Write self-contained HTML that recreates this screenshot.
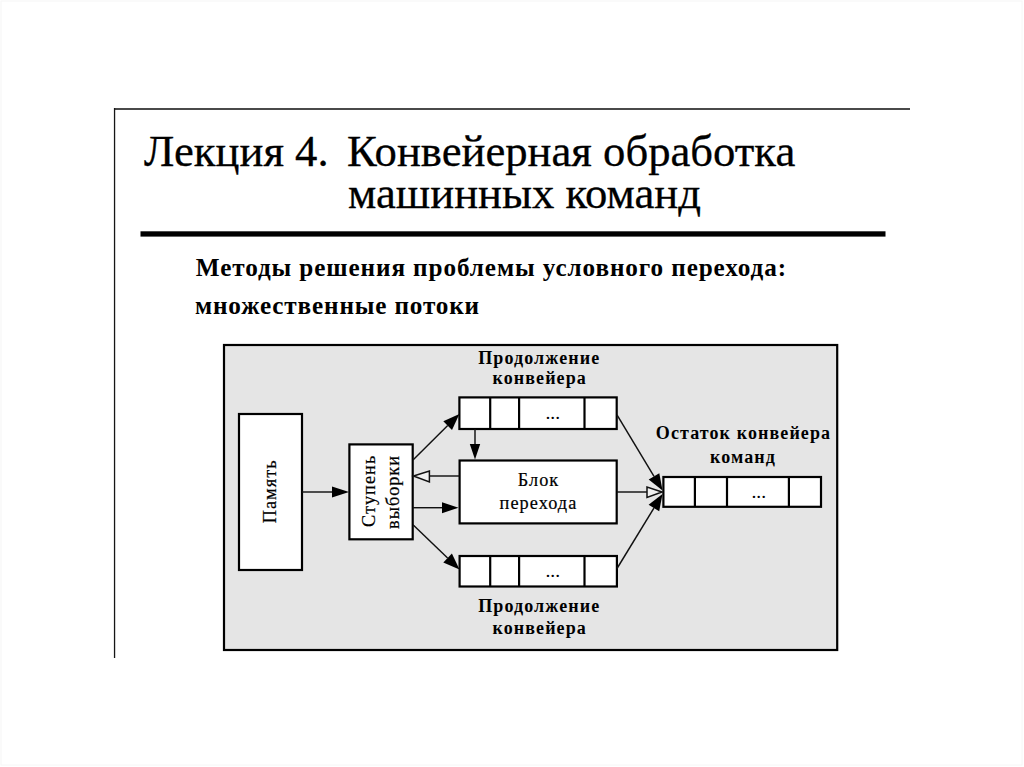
<!DOCTYPE html>
<html><head><meta charset="utf-8">
<style>
html,body{margin:0;padding:0;background:#fff;width:1024px;height:767px;overflow:hidden}
svg{display:block}
text{font-family:"Liberation Serif",serif;fill:#000}
.b{font-weight:700}
.t{stroke:#000;stroke-width:0.3px}
.t2{stroke:#000;stroke-width:0.2px}
</style></head><body>
<svg width="1024" height="767" viewBox="0 0 1024 767">
<rect x="0" y="0" width="1024" height="767" fill="#fff"/>
<rect x="1" y="1" width="1021" height="764" fill="none" stroke="#f6f6f6" stroke-width="1"/>
<!-- slide frame lines -->
<rect x="114" y="108" width="796" height="2" fill="#4a4a4a"/>
<rect x="113.9" y="108" width="1.3" height="550" fill="#151515"/>
<!-- title -->
<text class="t" x="144" y="166" font-size="44.7">Лекция 4.</text>
<text class="t" x="347" y="166" font-size="44.7">Конвейерная обработка</text>
<text class="t" x="348" y="207.5" font-size="44.7">машинных команд</text>
<rect x="140.5" y="231.3" width="745" height="5.3" fill="#000"/>
<!-- subtitle -->
<text class="b" x="195.8" y="275.6" font-size="25.2" letter-spacing="0.9">Методы решения проблемы условного перехода:</text>
<text class="b" x="195" y="313.8" font-size="25.2" letter-spacing="0.85">множественные потоки</text>
<!-- diagram -->
<g stroke="#000" stroke-width="2.2" fill="#fff">
<rect x="224" y="345" width="613.2" height="305" fill="#e5e5e5"/>
<rect x="239" y="414" width="63" height="156"/>
<rect x="349.4" y="444.4" width="63.3" height="94.9"/>
<rect x="459.4" y="397.4" width="157.3" height="31.6"/>
<rect x="459.6" y="460.5" width="157.1" height="62.9"/>
<rect x="459.6" y="556" width="157.3" height="30.5"/>
<rect x="663.4" y="477" width="157.6" height="29.8"/>
</g>
<g stroke="#000" stroke-width="2.2">
<line x1="490.2" y1="397.4" x2="490.2" y2="429"/>
<line x1="519.1" y1="397.4" x2="519.1" y2="429"/>
<line x1="584.5" y1="397.4" x2="584.5" y2="429"/>
<line x1="490.2" y1="556" x2="490.2" y2="586.5"/>
<line x1="519.1" y1="556" x2="519.1" y2="586.5"/>
<line x1="584.5" y1="556" x2="584.5" y2="586.5"/>
<line x1="694.9" y1="477" x2="694.9" y2="506.8"/>
<line x1="727" y1="477" x2="727" y2="506.8"/>
<line x1="788.9" y1="477" x2="788.9" y2="506.8"/>
</g>
<!-- arrows -->
<g stroke="#111" stroke-width="1.45" fill="none">
<line x1="302" y1="492" x2="334" y2="492"/>
<line x1="413" y1="507.7" x2="444" y2="507.7"/>
<line x1="459.5" y1="476" x2="429.4" y2="476"/>
<line x1="475" y1="429" x2="475" y2="446"/>
<line x1="617" y1="492" x2="647" y2="492"/>
</g>
<g fill="#000">
<polygon points="349,492 332,486.6 332,497.6"/>
<polygon points="458.5,507.7 442,502.3 442,513.2"/>
<polygon points="475,459.5 469.8,444 480.2,444"/>
</g>
<g stroke="#111" stroke-width="1.45">
<line x1="413" y1="460" x2="447.7" y2="425.6"/>
<line x1="413" y1="524.8" x2="447.6" y2="558.1"/>
<line x1="617" y1="414.8" x2="654.0" y2="476.4"/>
<line x1="617" y1="568.5" x2="653.9" y2="508.1"/>
</g>
<g fill="#000">
<polygon points="459.4,414.0 452.0,430.0 443.3,421.2"/>
<polygon points="459.5,569.5 443.3,562.5 451.9,553.6"/>
<polygon points="662.5,490.5 648.7,479.6 659.3,473.2"/>
<polygon points="662.5,494.0 659.2,511.3 648.6,504.8"/>
</g>
<g fill="#f0f0f0" stroke="#111" stroke-width="1.5">
<polygon points="413.5,476 429.4,471 429.4,482"/>
<polygon points="662,492 647,487 647,497.5"/>
</g>
<!-- dots -->
<text x="552.7" y="419.3" font-size="19.5" text-anchor="middle">...</text>
<text x="552.7" y="576.6" font-size="19.5" text-anchor="middle">...</text>
<text x="758.7" y="498.3" font-size="19.5" text-anchor="middle">...</text>
<!-- labels -->
<text class="b l" x="539.3" y="363.5" font-size="18" letter-spacing="1.1" text-anchor="middle">Продолжение</text>
<text class="b l" x="539.7" y="384.4" font-size="18" letter-spacing="1.1" text-anchor="middle">конвейера</text>
<text class="b l" x="539.3" y="612.3" font-size="18" letter-spacing="1.1" text-anchor="middle">Продолжение</text>
<text class="b l" x="539.7" y="633.6" font-size="18" letter-spacing="1.1" text-anchor="middle">конвейера</text>
<text class="b l" x="743.5" y="438.6" font-size="18" letter-spacing="1.1" text-anchor="middle">Остаток конвейера</text>
<text class="b l" x="743" y="463" font-size="18" letter-spacing="1.1" text-anchor="middle">команд</text>
<text x="538.5" y="486.1" font-size="18.3" letter-spacing="1.05" text-anchor="middle" class="t2">Блок</text>
<text x="538.5" y="509.3" font-size="18.3" letter-spacing="1.05" text-anchor="middle" class="t2">перехода</text>
<text transform="translate(276.4,491.4) rotate(-90)" font-size="18.3" letter-spacing="1.05" text-anchor="middle" class="t2">Память</text>
<text transform="translate(375,490.8) rotate(-90)" font-size="18.3" letter-spacing="1.05" text-anchor="middle" class="t2">Ступень</text>
<text transform="translate(398.9,492) rotate(-90)" font-size="18.3" letter-spacing="0.95" text-anchor="middle" class="t2">выборки</text>
</svg>
</body></html>
